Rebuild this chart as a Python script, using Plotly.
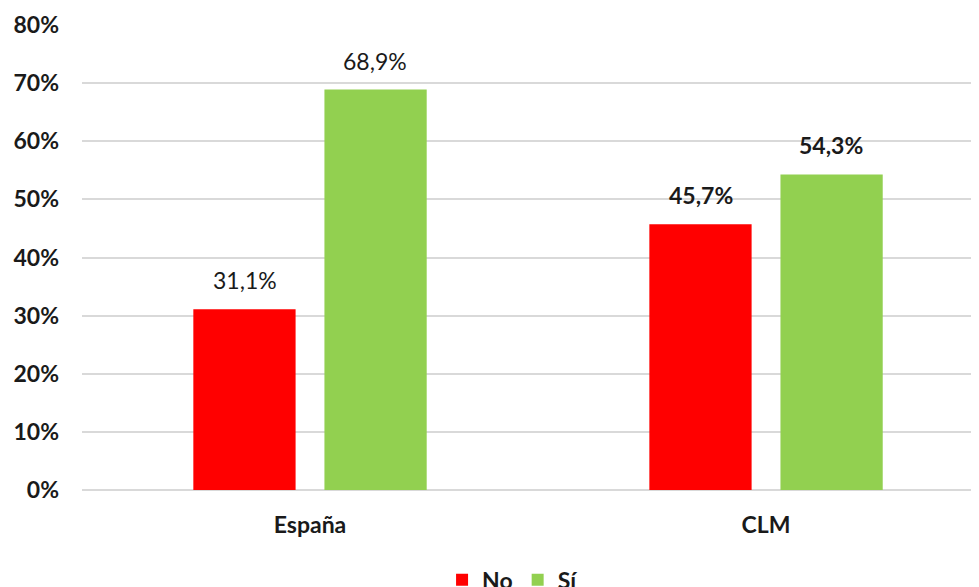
import plotly.graph_objects as go

categories = ["España", "CLM"]
series_names = ["No", "Sí"]
no_values = [31.1, 45.7]
si_values = [68.9, 54.3]
label_bold = [False, True]
y_ticks = [0, 10, 20, 30, 40, 50, 60, 70, 80]
y_tick_labels = [f"{v}%" for v in y_ticks]

colors = {"No": "#FF0000", "Sí": "#92D050"}
FONT = "Lato, 'Open Sans', sans-serif"
TXT = "#1a1a1a"
FS = 23

fig = go.Figure()
for name, vals in zip(series_names, [no_values, si_values]):
    fig.add_trace(go.Bar(name=name, x=categories, y=vals,
                         marker=dict(color=colors[name], line=dict(width=0))))

def fmt(v):
    return f"{v:.1f}".replace(".", ",") + "%"

annotations = []
for ci, cat in enumerate(categories):
    for si, (name, vals) in enumerate(zip(series_names, [no_values, si_values])):
        v = vals[ci]
        txt = fmt(v)
        if label_bold[ci]:
            txt = f"<b>{txt}</b>"
        annotations.append(dict(x=cat, y=v, text=txt, showarrow=False,
                                xshift=-65 if si == 0 else 65, yshift=13,
                                yanchor="bottom", font=dict(family=FONT, size=FS, color=TXT)))

fig.update_layout(
    width=971, height=579,
    margin=dict(l=74, r=0, t=17, b=97, autoexpand=False),
    paper_bgcolor="white", plot_bgcolor="white",
    barmode="group", bargap=0.425, bargroupgap=0.22,
    font=dict(family=FONT, size=FS, color=TXT),
    showlegend=True,
    legend=dict(orientation="h", x=0.48, xanchor="center", y=-0.147, yanchor="top",
                font=dict(family=FONT, size=FS, color=TXT, weight="bold"),
                traceorder="normal"),
    annotations=annotations,
)
fig.update_xaxes(range=[-0.5, 1.467], showgrid=False, showline=False, ticks="",
                 automargin=False, ticklabelstandoff=19,
                 tickfont=dict(family=FONT, size=FS, color=TXT, weight="bold"))
fig.update_yaxes(range=[0, 80], tickvals=y_ticks, ticktext=y_tick_labels,
                 showgrid=True, gridcolor="#D9D9D9", gridwidth=1.5,
                 zeroline=True, zerolinecolor="#D9D9D9", zerolinewidth=1.5,
                 ticks="", automargin=False, ticklabelstandoff=22,
                 tickfont=dict(family=FONT, size=FS, color=TXT, weight="bold"))

fig.write_html("out.html")
